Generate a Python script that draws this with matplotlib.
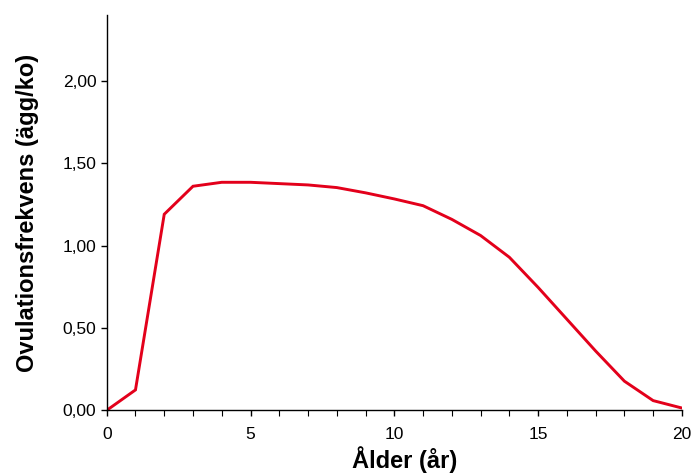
import matplotlib
matplotlib.use("Agg")
import matplotlib.pyplot as plt
from matplotlib.ticker import MultipleLocator, FuncFormatter

age = [0, 1, 2, 3, 4, 5, 6, 7, 8, 9, 10, 11, 12, 13, 14, 15, 16, 17, 18, 19, 20]
freq = [0.0, 0.124, 1.19, 1.36, 1.384, 1.384, 1.376, 1.368, 1.352, 1.32, 1.283,
        1.242, 1.159, 1.061, 0.929, 0.746, 0.553, 0.36, 0.177, 0.059, 0.014]
xlabel = "Ålder (år)"
ylabel = "Ovulationsfrekvens (ägg/ko)"

plt.rcParams['font.family'] = ['Liberation Sans', 'DejaVu Sans']
fig = plt.figure(figsize=(6.93, 4.73), dpi=100)
ax = fig.add_axes([0.154, 0.1325, 0.830, 0.836])
ax.plot(age, freq, color='#E3001B', lw=2.1, solid_joinstyle='miter')
ax.set_xlim(0, 20)
ax.set_ylim(0, 2.4)
ax.xaxis.set_major_locator(MultipleLocator(5))
ax.xaxis.set_minor_locator(MultipleLocator(1))
ax.yaxis.set_major_locator(MultipleLocator(0.5))
ax.yaxis.set_major_formatter(FuncFormatter(lambda v, p: f"{v:.2f}".replace('.', ',')))
ax.spines['top'].set_visible(False)
ax.spines['right'].set_visible(False)
for s in ['left', 'bottom']:
    ax.spines[s].set_linewidth(1.0)
ax.tick_params(axis='both', which='major', length=4, width=1.0, labelsize=12.5, direction='out')
ax.tick_params(axis='y', which='major', pad=3.5)
ax.tick_params(axis='x', which='major', pad=8)
ax.tick_params(axis='x', which='minor', length=4, width=0.8, direction='out')
ax.set_xlabel(xlabel, fontsize=17, fontweight='bold')
ax.xaxis.set_label_coords(0.518, -0.09)
ax.set_ylabel(ylabel, fontsize=17, fontweight='bold', labelpad=17)
fig.savefig("out.png", dpi=100)
